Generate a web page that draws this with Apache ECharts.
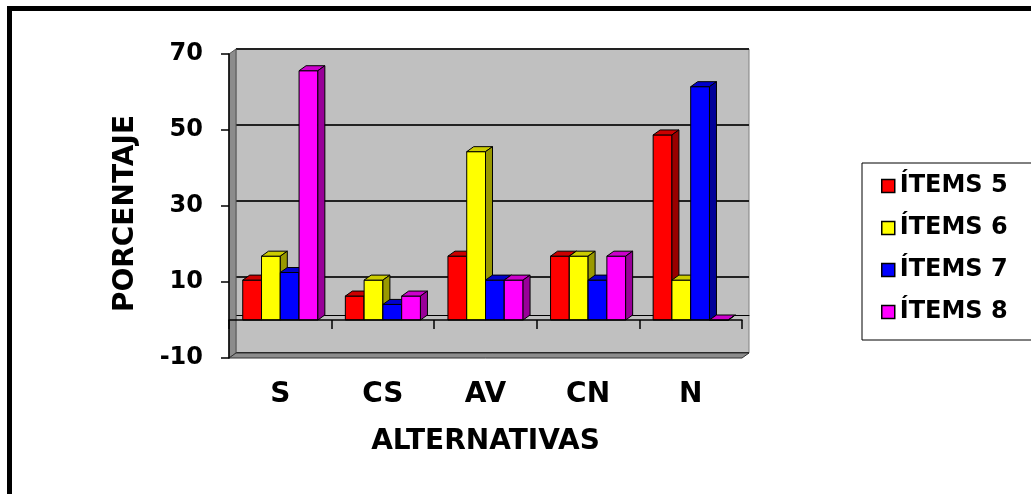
<!DOCTYPE html>
<html>
<head>
<meta charset="utf-8">
<script src="https://cdn.jsdelivr.net/npm/echarts@6/dist/echarts.min.js"></script>
<style>
  html, body { margin: 0; padding: 0; background: #fff; }
  #chart { width: 1031px; height: 494px; }
</style>
</head>
<body>
<div id="chart"></div>
<script>
    // datos
    const categorias = ['S', 'CS', 'AV', 'CN', 'N']
    const items5 = [10.5, 6.3, 16.8, 16.8, 48.7]
    const items6 = [16.8, 10.5, 44.3, 16.8, 10.5]
    const items7 = [12.5, 4.1, 10.5, 10.5, 61.4]
    const items8 = [65.6, 6.3, 10.5, 16.8, 0]
    const nombres = ['ÍTEMS 5', 'ÍTEMS 6', 'ÍTEMS 7', 'ÍTEMS 8']
    const yTicks = [-10, 10, 30, 50, 70]

    const font = 'DejaVu Sans'
    // frente, tapa, lado
    const colores = [
        ['#FF0000', '#CC0000', '#990000'],
        ['#FFFF00', '#CCCC00', '#999900'],
        ['#0000FF', '#0000CC', '#000099'],
        ['#FF00FF', '#CC00CC', '#990099']
    ]
    const dx = 7
    const dy = 5

    const front = { left: 229, top: 54, right: 289, bottom: 136 }
    const back = { left: front.left + dx, top: front.top - dy, right: front.right - dx, bottom: front.bottom + dy }
    const W = 1031
    const H = 494
    const x0 = front.left
    const x1 = W - front.right
    const y0 = front.top
    const y1 = H - front.bottom

    function renderBar (params, api) {
        const si = params.seriesIndex
        const cat = api.value(0)
        const val = api.value(1)
        const base = api.coord([cat, 0])
        const top = api.coord([cat, val])
        const band = api.size([1, 0])[0]
        const w = band * 0.183
        const x = base[0] - 2 * w + si * w
        const c = colores[si]
        const ln = { stroke: '#000', lineWidth: 1 }
        return {
            type: 'group',
            children: [
                {
                    type: 'rect',
                    shape: { x: x, y: top[1], width: w, height: base[1] - top[1] },
                    style: Object.assign({ fill: c[0] }, ln)
                },
                {
                    type: 'polygon',
                    shape: { points: [[x, top[1]], [x + dx, top[1] - dy], [x + w + dx, top[1] - dy], [x + w, top[1]]] },
                    style: Object.assign({ fill: c[1] }, ln)
                },
                {
                    type: 'polygon',
                    shape: { points: [[x + w, top[1]], [x + w + dx, top[1] - dy], [x + w + dx, base[1] - dy], [x + w, base[1]]] },
                    style: Object.assign({ fill: c[2] }, ln)
                }
            ]
        }
    }

    const serieDatos = [items5, items6, items7, items8]
    const series = serieDatos.map(function (arr, i) {
        return {
            name: nombres[i],
            type: 'custom',
            xAxisIndex: 1,
            yAxisIndex: 1,
            z: 3,
            itemStyle: { color: colores[i][0] },
            renderItem: renderBar,
            encode: { x: 0, y: 1 },
            data: arr.map(function (v, j) { return [j, v] })
        }
    })

    const textoBold = { fontFamily: font, fontWeight: 'bold', color: '#000' }

    const chart = echarts.init(document.getElementById('chart'))
    const option = {
        animation: false,
        backgroundColor: '#fff',
        grid: [
            Object.assign({ show: true, backgroundColor: '#C0C0C0', borderColor: '#808080', borderWidth: 1 }, back),
            Object.assign({ show: false }, front)
        ],
        legend: {
            orient: 'vertical',
            left: 862,
            top: 163,
            backgroundColor: '#fff',
            borderColor: '#000',
            borderWidth: 1,
            borderRadius: 0,
            padding: [11, 80, 16, 19],
            itemWidth: 13,
            itemHeight: 13,
            itemGap: 18,
            selectedMode: false,
            textStyle: Object.assign({ fontSize: 24, lineHeight: 24 }, textoBold),
            data: nombres.map(function (n, i) {
                return { name: n, icon: 'rect', itemStyle: { color: colores[i][0], borderColor: '#000', borderWidth: 1.5 } }
            })
        },
        xAxis: [
            {
                type: 'category',
                gridIndex: 0,
                data: categorias,
                axisLine: { show: true, onZero: true, lineStyle: { color: '#000', width: 1 } },
                axisTick: { show: false },
                axisLabel: { show: false }
            },
            {
                type: 'category',
                gridIndex: 1,
                data: categorias,
                z: 5,
                axisLine: { show: true, onZero: true, lineStyle: { color: '#000', width: 1.5 } },
                axisTick: { show: true, length: 9, lineStyle: { color: '#000', width: 1.5 } },
                axisLabel: { show: false }
            },
            {
                type: 'category',
                gridIndex: 1,
                data: categorias,
                position: 'bottom',
                axisLine: { show: false, onZero: false },
                axisTick: { show: false },
                axisLabel: Object.assign({ margin: 23, fontSize: 28 }, textoBold),
                name: 'ALTERNATIVAS',
                nameLocation: 'middle',
                nameGap: 70,
                nameTextStyle: Object.assign({ fontSize: 28 }, textoBold)
            }
        ],
        yAxis: [
            {
                type: 'value',
                gridIndex: 0,
                min: yTicks[0],
                max: yTicks[yTicks.length - 1],
                interval: 20,
                axisLine: { show: false },
                axisTick: { show: false },
                axisLabel: { show: false },
                splitLine: { show: true, lineStyle: { color: '#222', width: 2 } }
            },
            {
                type: 'value',
                gridIndex: 1,
                min: yTicks[0],
                max: yTicks[yTicks.length - 1],
                interval: 20,
                z: 5,
                axisLine: { show: true, lineStyle: { color: '#000', width: 1.5 } },
                axisTick: { show: true, length: 8, lineStyle: { color: '#000', width: 1.5 } },
                axisLabel: Object.assign({ margin: 26, fontSize: 24 }, textoBold),
                splitLine: { show: false },
                name: 'PORCENTAJE',
                nameLocation: 'middle',
                nameGap: 89,
                nameTextStyle: Object.assign({ fontSize: 28, padding: [0, 15, 0, 0] }, textoBold)
            }
        ],
        graphic: [
            // pared izquierda
            {
                type: 'polygon',
                z: 1,
                shape: { points: [[x0, y0], [x0 + dx, y0 - dy], [x0 + dx, y1 - dy], [x0, y1]] },
                style: { fill: '#8C8C8C', stroke: '#555', lineWidth: 1 }
            },
            // borde inferior del piso
            {
                type: 'polygon',
                z: 1,
                shape: { points: [[x0, y1], [x1, y1], [x1 + dx, y1 - dy], [x0 + dx, y1 - dy]] },
                style: { fill: '#8C8C8C', stroke: '#333', lineWidth: 1 }
            },
            // marco exterior
            {
                type: 'rect',
                z: 10,
                shape: { x: 9.5, y: 8.5, width: 1200, height: 700 },
                style: { fill: null, stroke: '#000', lineWidth: 5 }
            }
        ],
        series: series
    }
    chart.setOption(option)
</script>
</body>
</html>
